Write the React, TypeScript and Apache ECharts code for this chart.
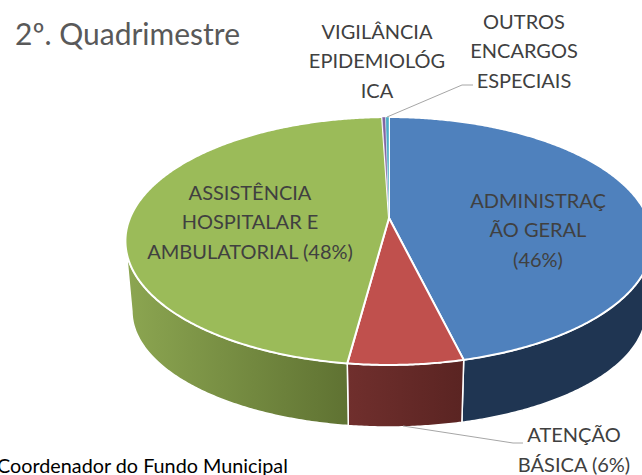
import React, { useEffect, useRef } from "react";
import * as echarts from "echarts";

const chartTitle = "2º. Quadrimestre";
const footerText = "Coordenador do Fundo Municipal";
const categories = ["ADMINISTRAÇÃO GERAL", "ATENÇÃO BÁSICA", "ASSISTÊNCIA HOSPITALAR E AMBULATORIAL", "VIGILÂNCIA EPIDEMIOLÓGICA", "OUTROS ENCARGOS ESPECIAIS"];
const values = [46.2, 5.9, 47.4, 0.25, 0.25];
const topColors = ["#4f81bd", "#c0504d", "#9bbb59", "#8064a2", "#4bacc6"];
const sideColors = [
  ["#1f3552", "#1f3552"],
  ["#702f2d", "#5a2422"],
  ["#8ca651", "#5f7232"],
  ["#4d3c62", "#4d3c62"],
  ["#2d6777", "#2d6777"],
];
const total = values.reduce((a, b) => a + b, 0);
const startFractions = values.map((_, i) => values.slice(0, i).reduce((a, b) => a + b, 0) / total);

const K = 0.1855;
const project = (deg: number, cx: number, cy: number, a: number, b: number): number[] => {
  const t = (deg * Math.PI) / 180;
  const w = 1 + K * Math.cos(t);
  return [cx + (a * Math.sin(t)) / w, cy - (b * Math.cos(t)) / w];
};
const topPt = (d: number) => project(d, 389, 218, 259, 119.7);
const botPt = (d: number) => project(d, 389, 289.5, 252.6, 112);

const sampleArc = (from: number, to: number, fn: (d: number) => number[]) => {
  const n = Math.max(2, Math.ceil(Math.abs(to - from) * 2));
  const pts: number[][] = [];
  for (let i = 0; i <= n; i++) pts.push(fn(from + ((to - from) * i) / n));
  return pts;
};

const label = (text: string, x: number, y: number) => ({
  type: "text",
  z: 10,
  x,
  y,
  style: { text, fill: "#404040", font: "20px Lato", textAlign: "center", textVerticalAlign: "middle", lineHeight: 29.5 },
});

export default function App() {
  const ref = useRef<HTMLDivElement>(null);
  useEffect(() => {
    const chart = echarts.init(ref.current!, null, { renderer: "svg" });
    chart.setOption({
      animation: false,
      backgroundColor: "#ffffff",
      series: [
        {
          type: "custom",
          coordinateSystem: "none",
          silent: true,
          z: 1,
          data: values,
          renderItem: (params: any) => {
            const i = params.dataIndex;
            const s = startFractions[i] * 360;
            const e = s + (values[i] / total) * 360;
            const from = Math.max(s, 101);
            const to = Math.min(e, 259);
            if (to <= from) return { type: "group", children: [] };
            const points = [...sampleArc(from, to, topPt), ...sampleArc(to, from, botPt)];
            return {
              type: "polygon",
              shape: { points },
              style: {
                fill: new echarts.graphic.LinearGradient(0, 0, 1, 0, [
                  { offset: 0, color: sideColors[i][0] },
                  { offset: 1, color: sideColors[i][1] },
                ]),
                stroke: "#ffffff",
                lineWidth: 1.5,
              },
            };
          },
        },
        {
          type: "custom",
          coordinateSystem: "none",
          silent: true,
          z: 2,
          data: values,
          renderItem: (params: any) => {
            const i = params.dataIndex;
            const s = startFractions[i] * 360;
            const e = s + (values[i] / total) * 360;
            const points = [[389, 218], ...sampleArc(s, e, topPt)];
            return {
              type: "polygon",
              shape: { points },
              style: { fill: topColors[i], stroke: "#ffffff", lineWidth: values[i] < 1 ? 0.4 : 2, lineJoin: "round" },
            };
          },
        },
      ],
      graphic: [
        { type: "text", z: 10, x: 15, y: 33, style: { text: chartTitle, fill: "#595959", font: "30px Lato", textVerticalAlign: "middle" } },
        label("VIGILÂNCIA\nEPIDEMIOLÓG\nICA", 377, 60),
        label("OUTROS\nENCARGOS\nESPECIAIS", 524, 50),
        label("ASSISTÊNCIA\nHOSPITALAR E\nAMBULATORIAL (48%)", 250, 221),
        label("ADMINISTRAÇ\nÃO GERAL\n(46%)", 538, 229),
        label("ATENÇÃO\nBÁSICA (6%)", 574, 449),
        { type: "polyline", z: 10, shape: { points: [[387, 117], [462, 85], [473, 85]] }, style: { stroke: "#a6a6a6", lineWidth: 1, fill: "none" } },
        { type: "polyline", z: 10, shape: { points: [[403, 426], [513, 443], [523, 443]] }, style: { stroke: "#a6a6a6", lineWidth: 1, fill: "none" } },
        { type: "text", z: 10, x: -3, y: 465, style: { text: footerText, fill: "#000000", font: "19.8px Lato", textVerticalAlign: "middle" } },
      ],
    });
    return () => chart.dispose();
  }, []);
  return <div ref={ref} style={{ position: "fixed", left: 0, top: 0, width: 642, height: 475 }} />;
}
